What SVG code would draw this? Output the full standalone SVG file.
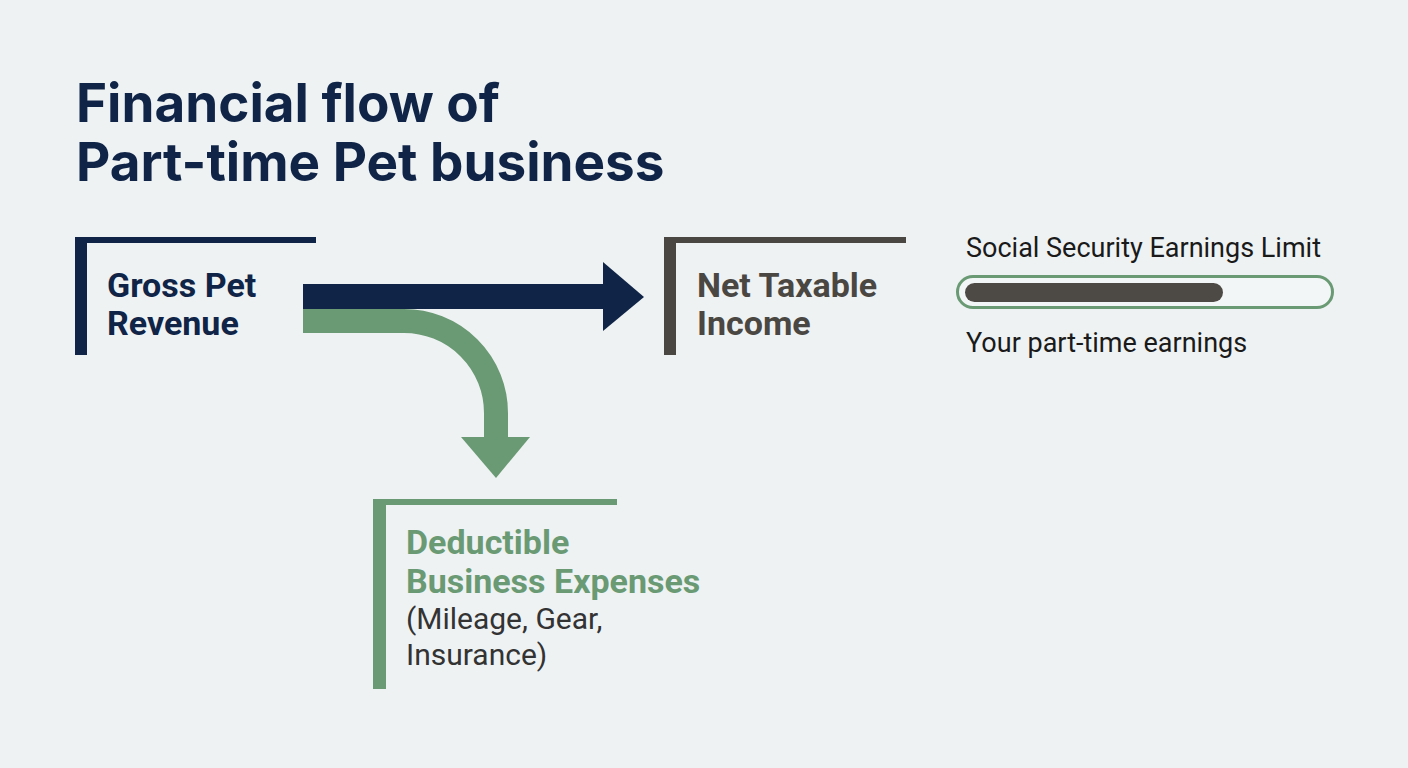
<svg xmlns="http://www.w3.org/2000/svg" width="1408" height="768" viewBox="0 0 1408 768">
<style>
.title{font-family:Inter,"Liberation Sans",sans-serif;font-weight:700;font-size:53px;fill:#0f2447}
.lbl{font-family:Roboto,"Liberation Sans",sans-serif;font-weight:700;font-size:34px}
.reg{font-family:Roboto,"Liberation Sans",sans-serif;font-weight:400}
.navy{fill:#0f2447}
.gray{fill:#4a4743}
.green{fill:#6a9a74}
</style>
<rect width="1408" height="768" fill="#eef2f3"/>
<g id="title">
<text class="title" x="76" y="122">Financial flow of</text>
<text class="title" x="76" y="181">Part-time Pet business</text>
</g>
<g id="connectors">
<path d="M303,321 H404 A92,92 0 0 1 496,413 V440" fill="none" stroke="#6a9a74" stroke-width="24"/>
<polygon points="461,437 530,437 496,478" class="green"/>
<rect x="303" y="284" width="302" height="25" class="navy"/>
<polygon points="603,262 644,297 603,331" class="navy"/>
</g>
<g id="gross">
<rect x="75" y="237" width="12" height="118" class="navy"/>
<rect x="75" y="237" width="241" height="6" class="navy"/>
<text class="lbl navy" x="107" y="297">Gross Pet</text>
<text class="lbl navy" x="107" y="335">Revenue</text>
</g>
<g id="net">
<rect x="664" y="237" width="12" height="118" class="gray"/>
<rect x="664" y="237" width="242" height="6" class="gray"/>
<text class="lbl gray" x="697" y="297">Net Taxable</text>
<text class="lbl gray" x="697" y="335">Income</text>
</g>
<g id="expenses">
<rect x="373" y="499" width="13" height="190" class="green"/>
<rect x="373" y="499" width="244" height="6" class="green"/>
<text class="lbl green" x="406" y="554">Deductible</text>
<text class="lbl green" x="406" y="593">Business Expenses</text>
<text class="reg" x="406" y="629" font-size="30" fill="#333333">(Mileage, Gear,</text>
<text class="reg" x="406" y="665" font-size="30" fill="#333333">Insurance)</text>
</g>
<g id="limit">
<text class="reg" x="966" y="257" font-size="27" fill="#1a1a1a">Social Security Earnings Limit</text>
<rect x="957.5" y="276.5" width="375" height="31" rx="15.5" fill="#f3f6f6" stroke="#6a9a74" stroke-width="3"/>
<rect x="965" y="283" width="258" height="19" rx="9.5" fill="#4d4a46"/>
<text class="reg" x="966" y="352" font-size="27" fill="#1a1a1a">Your part-time earnings</text>
</g>
</svg>
